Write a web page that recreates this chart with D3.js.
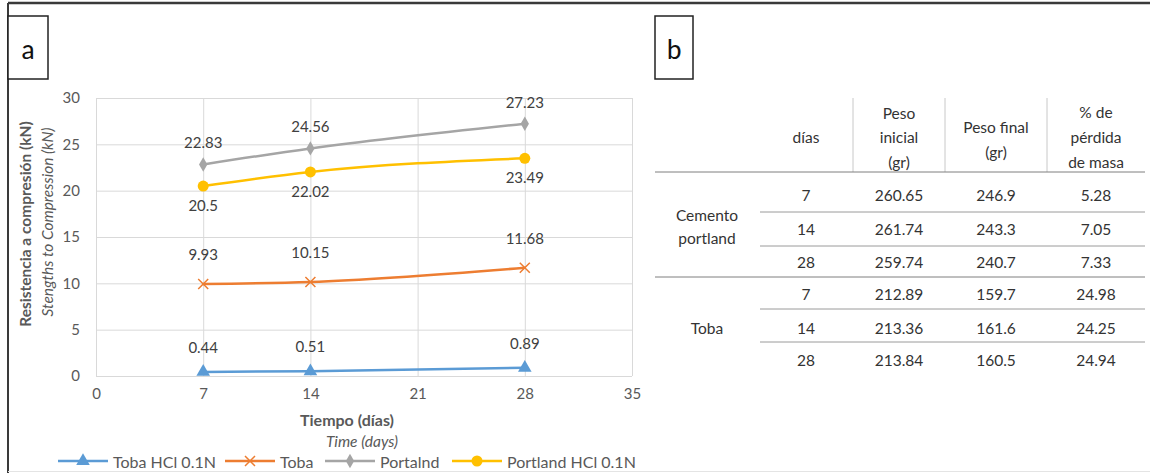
<!DOCTYPE html>
<html><head><meta charset="utf-8">
<script src="https://cdn.jsdelivr.net/npm/d3@7"></script>
<style>body{margin:0;background:#fff}svg{display:block}text{font-family:Lato,"Open Sans",sans-serif}</style>
</head><body>
<svg id="c" width="1150" height="473"></svg>
<script>
// ---- data ----
const days = [7, 14, 28];
const xTicks = [0, 7, 14, 21, 28, 35];
const yTicks = [0, 5, 10, 15, 20, 25, 30];
const seriesNames = ["Toba HCl 0.1N", "Toba", "Portalnd", "Portland HCl 0.1N"];
const tobaHCl = [0.44, 0.51, 0.89];
const toba = [9.93, 10.15, 11.68];
const portland = [22.83, 24.56, 27.23];
const portlandHCl = [20.5, 22.02, 23.49];
const legendLabels = ["Toba HCl 0.1N", "Toba", "Portalnd", "Portland HCl 0.1N"];

const tableHeader = [["días"], ["Peso", "inicial", "(gr)"], ["Peso final", "(gr)"], ["% de", "pérdida", "de masa"]];
const groups = [["Cemento", "portland"], ["Toba"]];
const tableDays = [7, 14, 28, 7, 14, 28];
const pesoInicial = ["260.65", "261.74", "259.74", "212.89", "213.36", "213.84"];
const pesoFinal = ["246.9", "243.3", "240.7", "159.7", "161.6", "160.5"];
const perdida = ["5.28", "7.05", "7.33", "24.98", "24.25", "24.94"];

// ---- layout ----
const svg = d3.select("#c");
const TXT = "#595959";
const x = d3.scaleLinear().domain([0, 35]).range([96, 632]);
const y = d3.scaleLinear().domain([0, 30]).range([376, 98]);

// frame
svg.append("line").attr("x1", 8).attr("x2", 1150).attr("y1", 3).attr("y2", 3).attr("stroke", "#3a3a3a").attr("stroke-width", 2.5);
svg.append("line").attr("x1", 8).attr("x2", 8).attr("y1", 3).attr("y2", 473).attr("stroke", "#3a3a3a").attr("stroke-width", 2);
svg.append("line").attr("x1", 8).attr("x2", 1150).attr("y1", 471.5).attr("y2", 471.5).attr("stroke", "#e4e4e4").attr("stroke-width", 1);

// label boxes
function labelBox(x0, x1, t) {
  svg.append("rect").attr("x", x0).attr("y", 16).attr("width", x1 - x0).attr("height", 63).attr("fill", "#fff").attr("stroke", "#222").attr("stroke-width", 1.5);
  svg.append("text").attr("x", (x0 + x1) / 2).attr("y", 49).attr("text-anchor", "middle").attr("dominant-baseline", "central").attr("font-size", 28).attr("fill", "#111").style("font-family", "Calibri,Carlito,'Open Sans',sans-serif").text(t);
}
labelBox(8, 48, "a");
labelBox(655, 693, "b");

// gridlines
const g = svg.append("g");
g.append("g")
  .call(d3.axisLeft(y).tickValues(yTicks).tickSize(-(632 - 96)).tickFormat(""))
  .attr("transform", "translate(96,0)")
  .call(s => { s.select(".domain").remove(); s.selectAll("line").attr("stroke", "#d9d9d9"); });
g.append("g").attr("transform", "translate(0,376)")
  .call(d3.axisBottom(x).tickValues(xTicks).tickSize(-(376 - 98)).tickFormat(""))
  .call(s => { s.select(".domain").remove(); s.selectAll("line").attr("stroke", "#d9d9d9"); });

// tick labels via axes
svg.append("g").attr("transform", "translate(96,0)")
  .call(d3.axisLeft(y).tickValues(yTicks).tickSize(0).tickPadding(16))
  .call(s => { s.select(".domain").remove(); s.selectAll("text").attr("fill", TXT).attr("font-size", 15).style("font-family", "Lato"); });
svg.append("g").attr("transform", "translate(0,376)")
  .call(d3.axisBottom(x).tickValues(xTicks).tickSize(0).tickPadding(12))
  .call(s => { s.select(".domain").remove(); s.selectAll("text").attr("fill", TXT).attr("font-size", 15).style("font-family", "Lato"); });

// axis titles
svg.append("text").attr("x", 347).attr("y", 419).attr("text-anchor", "middle").attr("dominant-baseline", "central")
  .attr("font-size", 16).attr("font-weight", "bold").attr("fill", TXT).text("Tiempo (días)");
svg.append("text").attr("x", 362).attr("y", 441).attr("text-anchor", "middle").attr("dominant-baseline", "central")
  .attr("font-size", 15.5).attr("font-style", "italic").attr("fill", TXT).text("Time (days)");
svg.append("text").attr("transform", "translate(25,224) rotate(-90)").attr("text-anchor", "middle").attr("dominant-baseline", "central")
  .attr("font-size", 15.5).attr("font-weight", "bold").attr("fill", TXT).text("Resistencia a compresión (kN)");
svg.append("text").attr("transform", "translate(47,222) rotate(-90)").attr("text-anchor", "middle").attr("dominant-baseline", "central")
  .attr("font-size", 15.5).attr("font-style", "italic").attr("fill", TXT).text("Stengths to Compression (kN)");

// series
const series = [
  {name: seriesNames[0], vals: tobaHCl, color: "#5b9bd5", marker: "triangle", dy: -25},
  {name: seriesNames[1], vals: toba, color: "#ed7d31", marker: "x", dy: -30},
  {name: seriesNames[2], vals: portland, color: "#a5a5a5", marker: "diamond", dy: -22},
  {name: seriesNames[3], vals: portlandHCl, color: "#ffc000", marker: "circle", dy: 19},
];
function drawMarker(sel, type, color, cx, cy, sc) {
  sc = sc || 1;
  if (type === "triangle") {
    sel.append("path").attr("d", d3.symbol(d3.symbolTriangle, 80 * sc)()).attr("transform", `translate(${cx},${cy})`).attr("fill", color);
  } else if (type === "x") {
    const r = 5 * sc;
    sel.append("path").attr("d", `M${cx - r},${cy - r}L${cx + r},${cy + r}M${cx - r},${cy + r}L${cx + r},${cy - r}`).attr("stroke", color).attr("stroke-width", 1.5).attr("fill", "none");
  } else if (type === "diamond") {
    sel.append("path").attr("d", d3.symbol(d3.symbolDiamond, 60 * sc)()).attr("transform", `translate(${cx},${cy})`).attr("fill", color);
  } else {
    sel.append("circle").attr("cx", cx).attr("cy", cy).attr("r", 5.5 * Math.sqrt(sc)).attr("fill", color);
  }
}
const line = d3.line().x((d, i) => x(days[i])).y(d => y(d)).curve(d3.curveMonotoneX);
series.forEach(s => {
  const gs = svg.append("g");
  gs.append("path").attr("d", line(s.vals)).attr("fill", "none").attr("stroke", s.color).attr("stroke-width", 2.5).attr("stroke-linecap", "round");
  s.vals.forEach((v, i) => {
    drawMarker(gs, s.marker, s.color, x(days[i]), y(v));
    gs.append("text").attr("x", x(days[i])).attr("y", y(v) + s.dy).attr("text-anchor", "middle").attr("dominant-baseline", "central")
      .attr("font-size", 15).attr("fill", "#404040").text(v);
  });
});

// legend
const legendX = [58, 225, 325, 452];
series.forEach((s, i) => {
  const lg = svg.append("g");
  const lx = legendX[i];
  lg.append("line").attr("x1", lx).attr("x2", lx + 50).attr("y1", 461).attr("y2", 461).attr("stroke", s.color).attr("stroke-width", 2.5);
  drawMarker(lg, s.marker, s.color, lx + 25, 461, 1);
  lg.append("text").attr("x", lx + 55).attr("y", 461).attr("dominant-baseline", "central").attr("font-size", 16).attr("fill", TXT).text(legendLabels[i]);
});

// ---- table ----
const T = "#333";
const colX = [806, 899, 996, 1096];
const hdrY = [[137], [113, 137, 162], [127, 152], [112, 137, 162]];
tableHeader.forEach((lines, c) => {
  lines.forEach((t, k) => {
    svg.append("text").attr("x", colX[c]).attr("y", hdrY[c][k]).attr("text-anchor", "middle").attr("dominant-baseline", "central")
      .attr("font-size", 15.5).attr("fill", T).text(t);
  });
});
[853, 945, 1047].forEach(xx => svg.append("line").attr("x1", xx).attr("x2", xx).attr("y1", 98).attr("y2", 172).attr("stroke", "#c8c8c8").attr("stroke-width", 1));
svg.append("line").attr("x1", 655).attr("x2", 1145).attr("y1", 172).attr("y2", 172).attr("stroke", "#7f7f7f").attr("stroke-width", 1);
const rowY = [195, 229, 262, 294, 328, 360];
const sepY = [212, 246, 277, 309, 342];
sepY.forEach((yy, i) => {
  const full = i === 2;
  svg.append("line").attr("x1", full ? 655 : 760).attr("x2", 1145).attr("y1", yy).attr("y2", yy).attr("stroke", full ? "#7f7f7f" : "#9a9a9a").attr("stroke-width", 1);
});
const cols = [tableDays, pesoInicial, pesoFinal, perdida];
cols.forEach((col, c) => col.forEach((v, r) => {
  svg.append("text").attr("x", colX[c]).attr("y", rowY[r]).attr("text-anchor", "middle").attr("dominant-baseline", "central")
    .attr("font-size", 15.5).attr("fill", T).text(v);
}));
const groupY = [[215, 238], [328]];
groups.forEach((lines, gi) => lines.forEach((t, k) => {
  svg.append("text").attr("x", 707).attr("y", groupY[gi][k]).attr("text-anchor", "middle").attr("dominant-baseline", "central")
    .attr("font-size", 15.5).attr("fill", T).text(t);
}));
</script>
</body></html>
